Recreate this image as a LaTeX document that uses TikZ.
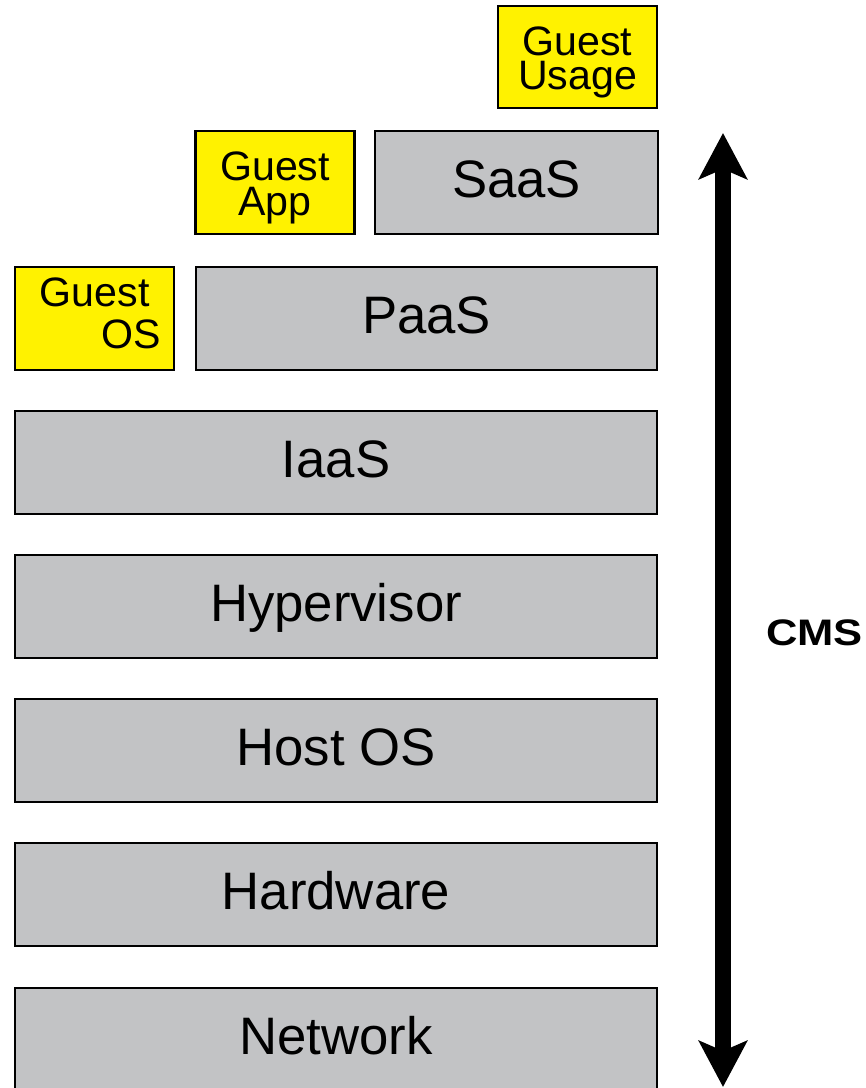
\documentclass[tikz,border=0pt]{standalone}
\usepackage{fontspec}
\setmainfont{Liberation Sans}
\usetikzlibrary{arrows.meta}
\definecolor{gris}{RGB}{194,195,197}

\begin{document}
\begin{tikzpicture}[
    capa/.style={draw, line width=0.6pt, fill=gris, inner sep=0pt,
      minimum width=6.42cm, minimum height=1.03cm,
      text height=10.7pt, text depth=2.2pt, font=\fontsize{15}{18}\selectfont},
    invitado/.style={draw, line width=0.6pt, fill=yellow, inner sep=0pt,
      minimum width=1.59cm, minimum height=1.03cm, text width=1.4cm, align=center,
      text height=10pt, text depth=11.1pt,
      font=\fontsize{11.7}{9.8}\selectfont},
    flecha/.style={{Stealth[length=0.46cm, width=0.48cm, inset=0.1cm]}-{Stealth[length=0.46cm, width=0.48cm, inset=0.1cm]}, line width=0.16cm}]
  \useasboundingbox (0,0) rectangle (8.65,10.88);

  % Capas
  \node[capa] (network) at (3.36,0.485) {Network};
  \node[capa] (hardware) at (3.36,1.935) {Hardware};
  \node[capa] (hostos) at (3.36,3.375) {Host OS};
  \node[capa] (hypervisor) at (3.36,4.815) {Hypervisor};
  \node[capa] (iaas) at (3.36,6.255) {IaaS};
  \node[capa, minimum width=4.61cm] (paas) at (4.265,7.695) {PaaS};
  \node[capa, minimum width=2.83cm] (saas) at (5.165,9.055) {SaaS};

  % Invitados
  \node[invitado, align=right, text width=1.33cm, text depth=17.1pt,
    font=\fontsize{11.7}{12}\selectfont] (guestos) at (0.945,7.695) {Guest\kern0.28em\\OS};
  \node[invitado] (guestapp) at (2.75,9.055) {Guest\\App};
  \node[invitado, minimum height=1.02cm] (guestusage) at (5.775,10.31) {Guest\\Usage};

  % Flecha CMS
  \coordinate (arriba) at (7.23,9.55);
  \coordinate (abajo) at (7.23,0.01);
  \draw[flecha] (arriba) -- (abajo);
  \node[inner sep=0pt, font=\bfseries\fontsize{10.5}{12}\selectfont] (cms) at (8.145,4.55) {\scalebox{1.18}[1]{CMS}};
\end{tikzpicture}
\end{document}
